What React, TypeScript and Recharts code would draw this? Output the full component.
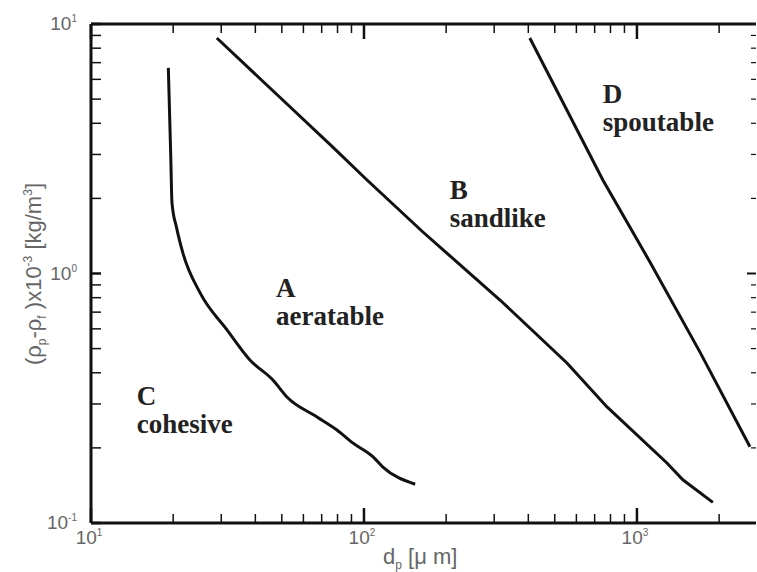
import { LineChart, Line, XAxis, YAxis, ReferenceLine, ReferenceDot } from "recharts";

// chart box and plot frame (pixels)
const W = 757;
const H = 572;
const Y_AXIS_W = 91;
const X_AXIS_H = 49;
const PLOT_TOP = 24;
const PLOT_RIGHT = W - 1;
const PLOT_LEFT = Y_AXIS_W;
const PLOT_BOTTOM = H - X_AXIS_H;

const X_MIN = 10;
const X_MAX = 2730;
const Y_MIN = 0.1;
const Y_MAX = 10;

const xTicks = [10, 20, 30, 40, 50, 60, 70, 80, 90, 100, 200, 300, 400, 500, 600, 700, 800, 900, 1000, 2000];
const xMajor = [10, 100, 1000];
const yTicks = [0.1, 0.2, 0.3, 0.4, 0.5, 0.6, 0.7, 0.8, 0.9, 1, 2, 3, 4, 5, 6, 7, 8, 9, 10];
const yMajor = [0.1, 1, 10];

// C / A boundary
const caD = [19.2, 19.6, 19.8, 20.6, 21.7, 25.1, 31.5, 38.2, 46.4, 52.2, 67.3, 79.6, 91.2, 108, 117, 154];
const caRho = [6.67, 2.93, 1.92, 1.52, 1.21, 0.836, 0.594, 0.45, 0.374, 0.32, 0.266, 0.236, 0.209, 0.184, 0.168, 0.143];
// A / B boundary
const abD = [28.9, 50.4, 76.9, 102.6, 164, 315, 554, 777, 1288, 1473, 1897];
const abRho = [8.79, 4.96, 3.21, 2.37, 1.47, 0.783, 0.438, 0.292, 0.174, 0.149, 0.121];
// B / D boundary
const bdD = [405, 750, 1117, 1702, 2594];
const bdRho = [8.79, 2.37, 1.11, 0.484, 0.202];

// region labels
const regionLetters = ["C", "A", "B", "D"];
const regionNames = ["cohesive", "aeratable", "sandlike", "spoutable"];
const labelD = [14.7, 47.6, 206, 750];
const labelRho = [0.297, 0.805, 1.99, 4.82];

const toRows = (d: number[], rho: number[]) => d.map((v, i) => ({ d: v, rho: rho[i] }));
const caData = toRows(caD, caRho);
const abData = toRows(abD, abRho);
const bdData = toRows(bdD, bdRho);

const INK = "#111";
const TICK_TEXT = "#666";
const SANS = "'Liberation Sans', Arial, sans-serif";
const SERIF = "'Liberation Serif', 'Times New Roman', serif";

function XTick(props: any) {
  const { x, payload } = props;
  const v = payload.value;
  const major = xMajor.includes(v);
  const exp = Math.round(Math.log10(v));
  return (
    <g>
      <line x1={x} x2={x} y1={PLOT_BOTTOM} y2={PLOT_BOTTOM - (major ? 15 : 9)} stroke={INK} strokeWidth={major ? 2.5 : 1.5} />
      <line x1={x} x2={x} y1={PLOT_TOP} y2={PLOT_TOP + (major ? 15 : 9)} stroke={INK} strokeWidth={major ? 2.5 : 1.5} />
      {major && (
        <text x={x - 2} y={PLOT_BOTTOM + 21} textAnchor="middle" fontFamily={SANS} fontSize={19} fill={TICK_TEXT}>
          10<tspan dy={-8} fontSize={10}>{exp}</tspan>
        </text>
      )}
    </g>
  );
}

function YTick(props: any) {
  const { y, payload } = props;
  const v = payload.value;
  const major = yMajor.includes(v);
  const exp = Math.round(Math.log10(v));
  return (
    <g>
      <line x1={PLOT_LEFT} x2={PLOT_LEFT + 10} y1={y} y2={y} stroke={INK} strokeWidth={major ? 2.5 : 1.5} />
      <line x1={PLOT_RIGHT} x2={PLOT_RIGHT - (major ? 9 : 5)} y1={y} y2={y} stroke={INK} strokeWidth={major ? 2 : 1.2} />
      {major && (
        <text x={PLOT_LEFT - 14} y={y + 6} textAnchor="end" fontFamily={SANS} fontSize={19} fill={TICK_TEXT}>
          10<tspan dy={-8} fontSize={10}>{exp}</tspan>
        </text>
      )}
    </g>
  );
}

function XTitle() {
  return (
    <text x={383} y={564} fontFamily={SANS} fontSize={22} fill={TICK_TEXT}>
      d<tspan dy={5} fontSize={12}>p</tspan>
      <tspan dy={-5}> [μ m]</tspan>
    </text>
  );
}

function YTitle() {
  return (
    <text
      transform={`translate(41, 274) rotate(-90)`}
      textAnchor="middle"
      fontFamily={SANS}
      fontSize={22}
      fill={TICK_TEXT}
    >
      (ρ<tspan dy={5} fontSize={12}>p</tspan>
      <tspan dy={-5}>-ρ</tspan>
      <tspan dy={5} fontSize={12}>f</tspan>
      <tspan dy={-5}> )x10</tspan>
      <tspan dy={-9} fontSize={12}>-3</tspan>
      <tspan dy={9}> [kg/m</tspan>
      <tspan dy={-9} fontSize={12}>3</tspan>
      <tspan dy={9}>]</tspan>
    </text>
  );
}

function regionLabel(i: number) {
  return (p: any) => (
    <text x={p.cx} y={p.cy} fontFamily={SERIF} fontWeight="bold" fontSize={27} fill="#222">
      <tspan x={p.cx}>{regionLetters[i]}</tspan>
      <tspan x={p.cx} dy={28}>{regionNames[i]}</tspan>
    </text>
  );
}

export default function App() {
  return (
    <div style={{ position: "absolute", left: 0, top: 0, width: W, height: H, background: "#fff" }}>
      <LineChart width={W} height={H} margin={{ top: PLOT_TOP, right: 1, bottom: 0, left: 0 }}>
        <XAxis
          dataKey="d"
          type="number"
          scale="log"
          domain={[X_MIN, X_MAX]}
          allowDataOverflow
          ticks={xTicks}
          interval={0}
          height={X_AXIS_H}
          tickSize={0}
          tickMargin={0}
          tickLine={false}
          tick={<XTick />}
          axisLine={{ stroke: INK, strokeWidth: 3 }}
          label={<XTitle />}
        />
        <YAxis
          dataKey="rho"
          type="number"
          scale="log"
          domain={[Y_MIN, Y_MAX]}
          allowDataOverflow
          ticks={yTicks}
          interval={0}
          width={Y_AXIS_W}
          tickSize={0}
          tickMargin={0}
          tickLine={false}
          tick={<YTick />}
          axisLine={{ stroke: INK, strokeWidth: 3 }}
          label={<YTitle />}
        />
        <ReferenceLine y={Y_MAX} stroke={INK} strokeWidth={3} />
        <Line data={caData} dataKey="rho" type="monotone" stroke={INK} strokeWidth={3} dot={false} isAnimationActive={false} />
        <Line data={abData} dataKey="rho" type="linear" stroke={INK} strokeWidth={3} dot={false} isAnimationActive={false} />
        <Line data={bdData} dataKey="rho" type="linear" stroke={INK} strokeWidth={3} dot={false} isAnimationActive={false} />
        {regionLetters.map((_, i) => (
          <ReferenceDot key={i} x={labelD[i]} y={labelRho[i]} r={0} shape={regionLabel(i)} />
        ))}
      </LineChart>
    </div>
  );
}
